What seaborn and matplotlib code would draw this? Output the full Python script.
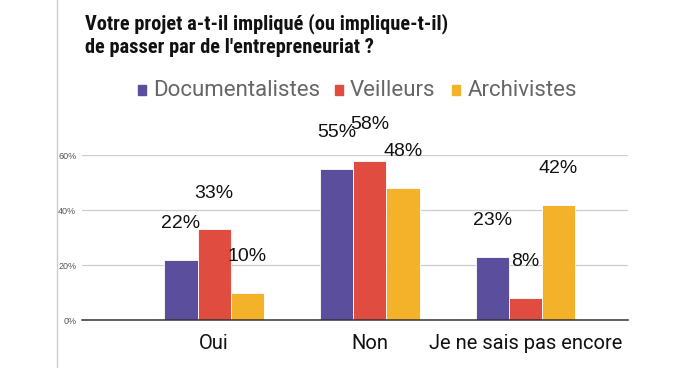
import pandas as pd
import matplotlib
matplotlib.use('Agg')
import matplotlib.pyplot as plt
import seaborn as sns
from matplotlib.lines import Line2D
from matplotlib.patches import Rectangle

# Data
categories = ['Oui', 'Non', 'Je ne sais pas encore']
series = ['Documentalistes', 'Veilleurs', 'Archivistes']
documentalistes = [22, 55, 23]
veilleurs = [33, 58, 8]
archivistes = [10, 48, 42]
colors = ['#5B4E9D', '#E04C40', '#F4B22A']
yticks = [0, 20, 40, 60]

rows = []
for s, vals in zip(series, [documentalistes, veilleurs, archivistes]):
    for c, v in zip(categories, vals):
        rows.append({'categorie': c, 'groupe': s, 'valeur': v})
df = pd.DataFrame(rows)

sns.set_style('white')
plt.rcParams['font.family'] = ['Roboto', 'DejaVu Sans']

fig = plt.figure(figsize=(6.97, 3.68), dpi=100)
ax = fig.add_axes([0.1176, 0.1304, 0.7834, 0.4484])

sns.barplot(data=df, x='categorie', y='valeur', hue='groupe', order=categories,
            hue_order=series, palette=colors, width=0.64, edgecolor='white',
            linewidth=0.6, saturation=1, legend=False, ax=ax)

ax.set_ylim(0, 60)
ax.set_xlim(-0.85, 2.66)
ax.set_yticks(yticks)
ax.set_yticklabels([f'{t}%' for t in yticks], fontsize=6.5, color='#555555',
                   family=['Liberation Sans', 'DejaVu Sans'])
ax.tick_params(axis='y', length=0, pad=4)
ax.tick_params(axis='x', length=0, pad=10, labelsize=14.5, labelcolor='#111111')
ax.set_xlabel('')
ax.set_ylabel('')
ax.yaxis.grid(True, color='#cccccc', linewidth=0.9)
ax.set_axisbelow(True)
for side in ['top', 'right', 'left']:
    ax.spines[side].set_visible(False)
ax.spines['bottom'].set_color('#333333')
ax.spines['bottom'].set_linewidth(1.1)

# value labels above bars
for container in ax.containers:
    for bar in container:
        h = bar.get_height()
        ax.annotate(f'{h:.0f}%', (bar.get_x() + bar.get_width() / 2, h),
                    xytext=(0, 26), textcoords='offset points', ha='center',
                    va='center', fontsize=14, color='#111111',
                    family=['Liberation Sans', 'DejaVu Sans'],
                    annotation_clip=False)

# title
fig.text(85 / 697, 1 - 13 / 368, "Votre projet a-t-il impliqué (ou implique-t-il)\nde passer par de l'entrepreneuriat ?",
         ha='left', va='top', fontsize=14.7, fontweight='bold', color='#111111',
         family=['Roboto Condensed', 'Liberation Sans Narrow', 'DejaVu Sans'],
         fontstretch='condensed', linespacing=1.32)

# legend
leg_y = 1 - 90 / 368
leg_items = [(138, 153), (335, 350), (452, 468)]
for (sq, tx), name, col in zip(leg_items, series, colors):
    fig.add_artist(Rectangle((sq / 697, leg_y - 4.5 / 368), 8 / 697, 9 / 368,
                             transform=fig.transFigure, color=col))
    fig.text(tx / 697, leg_y, name, ha='left', va='center', fontsize=16,
             color='#666666')

# left border line
fig.add_artist(Line2D([57 / 697, 57 / 697], [0, 1], transform=fig.transFigure,
                      color='#cccccc', linewidth=1))

plt.savefig('out.png', dpi=100)
